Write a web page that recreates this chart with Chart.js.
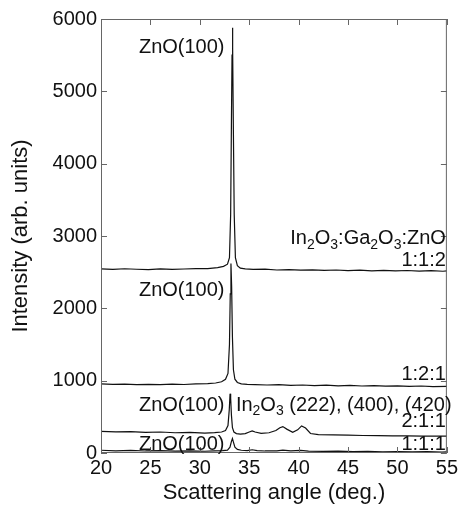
<!DOCTYPE html>
<html>
<head>
<meta charset="utf-8">
<script src="https://cdn.jsdelivr.net/npm/chart.js@4/dist/chart.umd.min.js"></script>
<style>
  html, body { margin: 0; padding: 0; background: #fff; }
  #wrap { width: 461px; height: 508px; }
</style>
</head>
<body>
<div id="wrap"><canvas id="xrdChart" width="461" height="508"></canvas></div>
<script>
// Ângulos (graus) e intensidades, uma série por composição
const angles112 = [20, 21.2, 22.4, 23.6, 24.8, 26, 27.2, 28.4, 29.6, 30.8, 31.8, 32.4, 32.8, 33.0, 33.12, 33.2, 33.26, 33.3, 33.34, 33.4, 33.48, 33.6, 33.8, 34.1, 34.6, 35.4, 36.6, 37.8, 39, 40.2, 41.4, 42.6, 43.8, 45, 46.2, 47.4, 48.6, 49.8, 51, 52.2, 53.4, 54.6, 55];
const int112 = [2545, 2538, 2547, 2540, 2536, 2546, 2539, 2544, 2550, 2548, 2562, 2580, 2610, 2700, 3300, 4600, 5500, 5880, 5600, 4400, 3300, 2700, 2590, 2555, 2545, 2538, 2542, 2530, 2536, 2528, 2533, 2524, 2530, 2522, 2528, 2519, 2525, 2517, 2523, 2515, 2521, 2513, 2518];

const angles121 = [20, 21.2, 22.4, 23.6, 24.8, 26, 27.2, 28.4, 29.6, 30.8, 31.6, 32.2, 32.6, 32.85, 33.0, 33.08, 33.15, 33.22, 33.3, 33.4, 33.55, 33.8, 34.2, 34.8, 35.6, 36.8, 38, 39.2, 40.4, 41.6, 42.8, 44, 45.2, 46.4, 47.6, 48.8, 50, 51.2, 52.4, 53.6, 55];
const int121 = [955, 948, 952, 944, 950, 946, 953, 947, 955, 958, 968, 985, 1020, 1100, 1500, 2200, 2620, 2300, 1600, 1150, 1020, 975, 955, 948, 944, 940, 945, 936, 940, 932, 937, 929, 934, 926, 931, 924, 928, 921, 926, 918, 922];

const angles211 = [20, 21.5, 23, 24.5, 26, 27.5, 29, 30.5, 31.5, 32.2, 32.6, 32.85, 32.98, 33.06, 33.12, 33.2, 33.3, 33.45, 33.7, 34.1, 34.6, 35.0, 35.3, 35.6, 36.2, 37, 37.7, 38.1, 38.4, 38.8, 39.4, 39.9, 40.3, 40.7, 41.2, 42, 43.5, 45, 46.5, 48, 49.5, 51, 52.5, 54, 55];
const int211 = [300, 292, 296, 285, 290, 280, 284, 276, 282, 290, 310, 380, 600, 820, 760, 520, 350, 290, 268, 262, 268, 290, 305, 290, 272, 280, 310, 350, 365, 330, 285, 320, 375, 345, 270, 255, 250, 246, 242, 240, 238, 236, 234, 233, 232];

const angles111 = [20, 21.5, 23, 24.5, 26, 27.5, 29, 30.5, 31.5, 32.3, 32.8, 33.05, 33.2, 33.3, 33.4, 33.55, 33.8, 34.2, 34.8, 35.3, 35.8, 36.6, 37.8, 38.4, 39.2, 40.2, 41, 42.5, 44, 45.5, 47, 48.5, 50, 51.5, 53, 54.5, 55];
const int111 = [38, 30, 35, 28, 33, 26, 30, 24, 28, 32, 40, 80, 160, 200, 150, 80, 50, 38, 32, 45, 34, 28, 30, 40, 30, 35, 26, 22, 25, 19, 22, 17, 20, 15, 18, 14, 16];

// Ticks dos eixos
const xTicks = [20, 25, 30, 35, 40, 45, 50, 55];
const yTicks = [0, 1000, 2000, 3000, 4000, 5000, 6000];

// Rótulos dentro do gráfico ("_" indica subscrito)
const labelTexts = ['ZnO(100)', 'In_2O_3:Ga_2O_3:ZnO', '1:1:2', 'ZnO(100)', '1:2:1', 'ZnO(100)', 'In_2O_3 (222), (400), (420)', '2:1:1', 'ZnO(100)', '1:1:1'];
const labelAngles = [32.5, 54.9, 54.9, 32.5, 54.9, 32.5, 33.65, 54.9, 32.5, 54.9];
const labelIntensities = [5600, 2966, 2662, 2248, 1090, 662, 662, 441, 124, 124];
const labelAligns = ['right', 'right', 'right', 'right', 'right', 'right', 'left', 'right', 'right', 'right'];

const FONT = '"Liberation Sans", Arial, sans-serif';

function toPoints(xs, ys) {
    return xs.map((x, i) => ({ x: x, y: ys[i] }));
}

function serie(xs, ys) {
    return {
        data: toPoints(xs, ys),
        borderColor: '#111',
        borderWidth: 1.2,
        pointRadius: 0,
        tension: 0,
        fill: false
    };
}

// Desenha texto com subscritos
function drawRich(ctx, str, x, y, align, size) {
    const parts = [];
    for (let i = 0; i < str.length; i++) {
        if (str[i] === '_') {
            parts.push({ t: str[i + 1], sub: true });
            i++;
        } else {
            parts.push({ t: str[i], sub: false });
        }
    }
    const big = size + 'px ' + FONT;
    const small = Math.round(size * 0.68) + 'px ' + FONT;
    let total = 0;
    parts.forEach(p => {
        ctx.font = p.sub ? small : big;
        p.w = ctx.measureText(p.t).width;
        total += p.w;
    });
    let cx = align === 'right' ? x - total : x;
    ctx.textAlign = 'left';
    ctx.textBaseline = 'middle';
    parts.forEach(p => {
        ctx.font = p.sub ? small : big;
        ctx.fillText(p.t, cx, p.sub ? y + size * 0.32 : y);
        cx += p.w;
    });
}

// Moldura, ticks internos e rótulos
const framePlugin = {
    id: 'frame',
    afterDraw(chart) {
        const ctx = chart.ctx;
        const a = chart.chartArea;
        const xs = chart.scales.x;
        const ys = chart.scales.y;
        ctx.save();
        ctx.strokeStyle = '#666';
        ctx.lineWidth = 1;
        ctx.strokeRect(a.left + 0.5, a.top + 0.5, a.right - a.left - 1, a.bottom - a.top - 1);
        ctx.beginPath();
        xTicks.forEach(t => {
            const px = Math.round(xs.getPixelForValue(t)) + 0.5;
            ctx.moveTo(px, a.bottom);
            ctx.lineTo(px, a.bottom - 6);
            ctx.moveTo(px, a.top);
            ctx.lineTo(px, a.top + 6);
        });
        yTicks.forEach(t => {
            const py = Math.round(ys.getPixelForValue(t)) + 0.5;
            ctx.moveTo(a.left, py);
            ctx.lineTo(a.left + 6, py);
            ctx.moveTo(a.right, py);
            ctx.lineTo(a.right - 6, py);
        });
        ctx.stroke();

        ctx.fillStyle = '#111';
        labelTexts.forEach((txt, i) => {
            const px = xs.getPixelForValue(labelAngles[i]);
            const py = ys.getPixelForValue(labelIntensities[i]);
            drawRich(ctx, txt, px, py, labelAligns[i], 20);
        });
        ctx.restore();
    }
};

const ctx = document.getElementById('xrdChart').getContext('2d');
const chart = new Chart(ctx, {
    type: 'line',
    data: {
        datasets: [
            serie(angles112, int112),
            serie(angles121, int121),
            serie(angles211, int211),
            serie(angles111, int111)
        ]
    },
    options: {
        responsive: false,
        animation: false,
        layout: { padding: { top: 19, right: 14, left: 0, bottom: 0 } },
        plugins: {
            legend: { display: false },
            tooltip: { enabled: false }
        },
        scales: {
            x: {
                type: 'linear',
                min: 20,
                max: 55,
                afterBuildTicks: s => { s.ticks = xTicks.map(v => ({ value: v })); },
                afterFit: s => { s.height = 55; },
                grid: { display: false, drawTicks: false },
                border: { display: false },
                ticks: { color: '#111', padding: 3, maxRotation: 0, font: { family: FONT, size: 20 } },
                title: {
                    display: true,
                    text: 'Scattering angle (deg.)',
                    color: '#111',
                    font: { family: FONT, size: 22 },
                    padding: { top: 0, bottom: 2 }
                }
            },
            y: {
                type: 'linear',
                min: 0,
                max: 6000,
                afterBuildTicks: s => { s.ticks = yTicks.map(v => ({ value: v })); },
                afterFit: s => { s.width = 101; },
                grid: { display: false, drawTicks: false },
                border: { display: false },
                ticks: {
                    color: '#111',
                    padding: 4,
                    font: { family: FONT, size: 20 },
                    callback: v => String(v)
                },
                title: {
                    display: true,
                    text: 'Intensity (arb. units)',
                    color: '#111',
                    font: { family: FONT, size: 22 },
                    padding: { top: 8, bottom: 0 }
                }
            }
        }
    },
    plugins: [framePlugin]
});
</script>
</body>
</html>
